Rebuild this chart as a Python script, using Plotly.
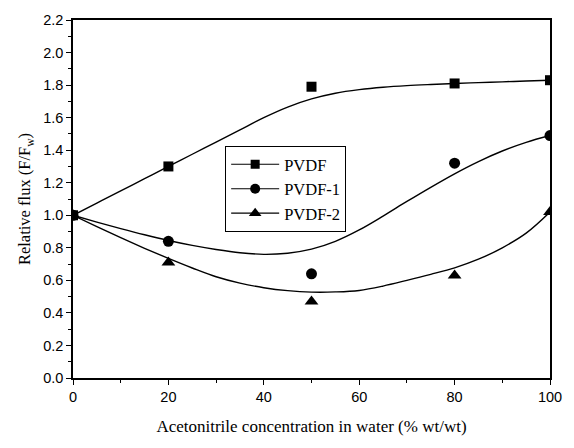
import plotly.graph_objects as go

# Acetonitrile concentration (% wt/wt) of the measured points
conc = [0, 20, 50, 80, 100]
# Measured relative flux F/Fw
pvdf = [1.00, 1.30, 1.79, 1.81, 1.83]
pvdf1 = [1.00, 0.84, 0.64, 1.32, 1.49]
pvdf2 = [1.00, 0.71, 0.47, 0.63, 1.02]

# Smoothed fit curves, sampled every 5 % wt/wt
fit_conc = [0, 5, 10, 15, 20, 25, 30, 35, 40, 45, 50,
            55, 60, 65, 70, 75, 80, 85, 90, 95, 100]
pvdf_fit = [1.00, 1.075, 1.15, 1.225, 1.30, 1.375, 1.45, 1.525, 1.60, 1.665, 1.715,
            1.75, 1.772, 1.787, 1.797, 1.804, 1.81, 1.815, 1.82, 1.825, 1.83]
pvdf1_fit = [1.00, 0.958, 0.918, 0.88, 0.845, 0.815, 0.79, 0.77, 0.76, 0.767, 0.792,
             0.84, 0.91, 0.995, 1.085, 1.172, 1.255, 1.33, 1.395, 1.448, 1.49]
pvdf2_fit = [1.00, 0.93, 0.862, 0.797, 0.735, 0.676, 0.622, 0.583, 0.555, 0.537, 0.528,
             0.529, 0.538, 0.565, 0.60, 0.637, 0.677, 0.73, 0.80, 0.89, 1.02]

series = [
    ("PVDF", pvdf, pvdf_fit, "square", 10),
    ("PVDF-1", pvdf1, pvdf1_fit, "circle", 11),
    ("PVDF-2", pvdf2, pvdf2_fit, "triangle-up", 12),
]

fig = go.Figure()
for name, ys, fit, sym, size in series:
    fig.add_trace(go.Scatter(x=fit_conc, y=fit, mode="lines",
                             line=dict(color="black", width=1.4, shape="spline", smoothing=1.0),
                             showlegend=False, hoverinfo="skip"))
    fig.add_trace(go.Scatter(x=conc, y=ys, mode="markers", name=name,
                             marker=dict(symbol=sym, size=size, color="black"),
                             showlegend=False))
    # legend entry: line with marker
    fig.add_trace(go.Scatter(x=[None], y=[None], mode="lines+markers", name=name,
                             line=dict(color="black", width=1.1),
                             marker=dict(symbol=sym, size=size - 1, color="black")))

axis_common = dict(
    showline=True, linecolor="black", linewidth=1.5, mirror=True,
    ticks="outside", tickcolor="black", ticklen=5, tickwidth=1.2,
    showgrid=False, zeroline=False,
    tickfont=dict(family="Liberation Sans, Arial", size=14.5, color="black"),
)

fig.update_xaxes(range=[0, 100], dtick=20, tick0=0,
                 minor=dict(dtick=10, ticks="outside", ticklen=3, tickcolor="black"),
                 title=dict(text="Acetonitrile concentration in water (% wt/wt)",
                            font=dict(family="Liberation Serif, Times New Roman", size=17, color="black"),
                            standoff=16),
                 **axis_common)
fig.update_yaxes(range=[0, 2.2], dtick=0.2, tick0=0, tickformat=".1f",
                 minor=dict(dtick=0.1, ticks="outside", ticklen=3, tickcolor="black"),
                 title=dict(text="Relative flux (F/F<sub>w</sub>)",
                            font=dict(family="Liberation Serif, Times New Roman", size=16.5, color="black"),
                            standoff=8),
                 **axis_common)

fig.update_layout(
    width=574, height=448,
    margin=dict(l=73, r=21, t=14, b=70),
    paper_bgcolor="white", plot_bgcolor="white",
    legend=dict(x=0.319, y=0.648, xanchor="left", yanchor="top",
                bordercolor="black", borderwidth=1, bgcolor="white",
                font=dict(family="Liberation Serif, Times New Roman", size=16.5, color="black"),
                tracegroupgap=0, itemwidth=48),
)

fig.write_html("out.html")
